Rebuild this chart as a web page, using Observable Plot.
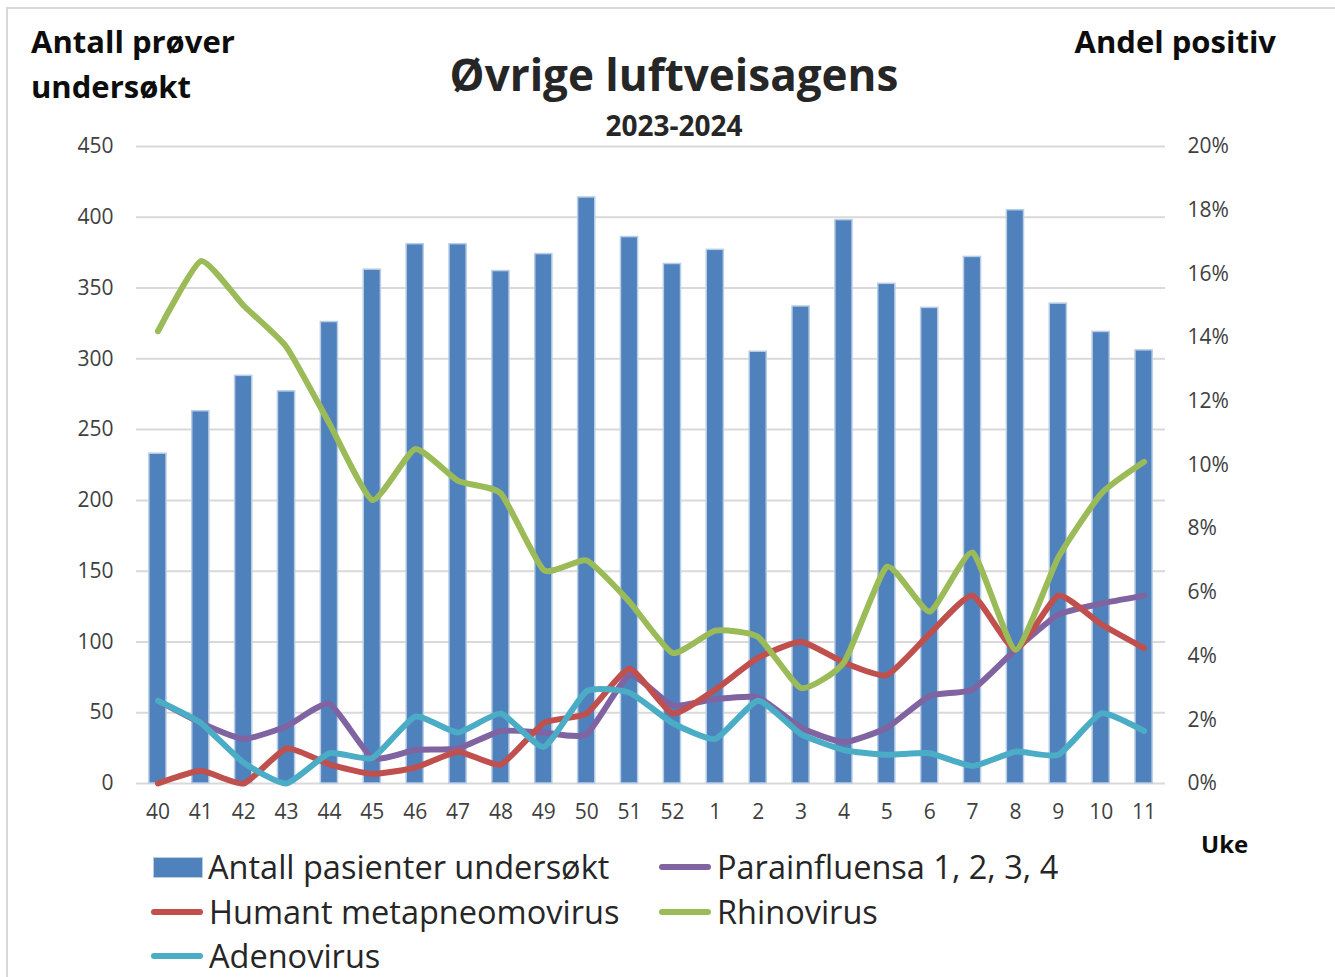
<!DOCTYPE html>
<html>
<head>
<meta charset="utf-8">
<script src="https://cdn.jsdelivr.net/npm/d3@7"></script>
<script src="https://cdn.jsdelivr.net/npm/@observablehq/plot@0.6"></script>
<style>
  html, body { margin: 0; padding: 0; background: #fff; }
  body { width: 1335px; height: 977px; overflow: hidden; font-family: "Open Sans", Lato, sans-serif; }
  #wrap { position: relative; width: 1335px; height: 977px; }
  #frame { position: absolute; left: 6px; top: 7px; width: 1340px; height: 990px; border-left: 2px solid #d9d9d9; border-top: 2px solid #d9d9d9; }
  .t { position: absolute; white-space: nowrap; color: #0d0d0d; font-weight: 700; }
  #chart { position: absolute; left: 0; top: 0; }
  .leg { position: absolute; white-space: nowrap; font-size: 32.5px; line-height: 34px; color: #262626; display: flex; align-items: center; }
  .sw-rect { width: 50px; height: 21px; background: #4F81BD; border: 1.5px solid #B9CDE5; box-sizing: border-box; margin-right: 5px; flex: none; }
  .sw-line { width: 52px; height: 6px; border-radius: 3px; margin-right: 6px; flex: none; }
</style>
</head>
<body>
<div id="wrap">
  <div id="frame"></div>
  <div id="chart"></div>
  <div class="t" style="left:31px; top:19px; font-size:31px; line-height:45px;">Antall prøver<br>undersøkt</div>
  <div class="t" style="right:59px; top:19px; font-size:31px; line-height:45px;">Andel positiv</div>
  <div class="t" style="left:674px; top:45px; transform:translateX(-50%); font-size:44px; line-height:58px; color:#262626;">Øvrige luftveisagens</div>
  <div class="t" style="left:674px; top:107px; transform:translateX(-50%); font-size:28px; line-height:36px; color:#262626;">2023-2024</div>
  <div class="t" style="left:1201px; top:828px; font-size:24px; line-height:32px;">Uke</div>
  <div id="legend"></div>
</div>
<script>
// Weeks (categories)
const weeks = ["40","41","42","43","44","45","46","47","48","49","50","51","52","1","2","3","4","5","6","7","8","9","10","11"];
// Antall pasienter undersøkt (left axis)
const antall = [233,263,288,277,326,363,381,381,362,374,414,386,367,377,305,337,398,353,336,372,405,339,319,306];
// Andel positiv (%), right axis
const parainfluensa = [2.6,1.9,1.4,1.8,2.5,0.8,1.05,1.1,1.65,1.6,1.55,3.4,2.45,2.65,2.7,1.75,1.3,1.75,2.75,2.95,4.2,5.3,5.65,5.9];
const hmpv = [0,0.4,0,1.1,0.6,0.3,0.5,1.0,0.6,1.9,2.2,3.6,2.2,2.95,3.95,4.45,3.8,3.4,4.7,5.9,4.2,5.9,5.0,4.25];
const rhinovirus = [14.2,16.4,15.0,13.7,11.3,8.9,10.5,9.5,9.1,6.7,7.0,5.7,4.1,4.8,4.6,3.0,3.8,6.8,5.4,7.25,4.2,7.1,9.1,10.1];
const adenovirus = [2.6,1.9,0.65,0,0.95,0.8,2.1,1.6,2.2,1.15,2.9,2.85,1.9,1.4,2.6,1.55,1.05,0.9,0.95,0.55,1.0,0.9,2.2,1.65];
const leftTicks = [0,50,100,150,200,250,300,350,400,450];
const rightTicks = [0,2,4,6,8,10,12,14,16,18,20];

const seriesNames = ["Parainfluensa 1, 2, 3, 4","Humant metapneomovirus","Rhinovirus","Adenovirus"];
const seriesVals = [parainfluensa, hmpv, rhinovirus, adenovirus];
const seriesColors = ["#8064A2","#C0504D","#9BBB59","#4BACC6"];

const leftMax = 450, rightMax = 20;
const k = leftMax / rightMax; // percent -> left scale units

const bars = weeks.map((w, i) => ({week: w, value: antall[i]}));
const lines = seriesNames.flatMap((name, s) => weeks.map((w, i) => ({series: name, week: w, pct: seriesVals[s][i], v: seriesVals[s][i] * k})));

const fontFam = "'Open Sans', Lato, sans-serif";
const chart = Plot.plot({
  width: 1335,
  height: 840,
  marginTop: 146,
  marginBottom: 57,
  marginLeft: 136,
  marginRight: 170,
  style: {fontFamily: fontFam, fontSize: "20px", color: "#404040", background: "transparent"},
  x: {domain: weeks, type: "band", paddingInner: 0.6, paddingOuter: 0.3, align: 0.5, round: false, label: null},
  y: {domain: [0, leftMax], label: null},
  marks: [
    Plot.gridY(leftTicks, {stroke: "#d9d9d9", strokeOpacity: 1, strokeWidth: 2}),
    Plot.barY(bars, {x: "week", y: "value", fill: "#4F81BD", stroke: "#B9CDE5", strokeWidth: 1.5}),
    ...seriesNames.map((name, s) => Plot.line(lines.filter(d => d.series === name), {
      x: "week", y: "v", stroke: seriesColors[s], strokeWidth: 6, curve: "cardinal", tension: 0.5, strokeLinecap: "round", strokeLinejoin: "round"
    })),
    Plot.axisY(leftTicks, {anchor: "left", tickSize: 0, tickPadding: 23, label: null, fontSize: 21}),
    Plot.axisY(rightTicks.map(p => p * k), {anchor: "right", tickSize: 0, tickPadding: 22, label: null, fontSize: 21, tickFormat: d => Math.round(d / k) + "%"}),
    Plot.axisX({anchor: "bottom", tickSize: 0, tickPadding: 21, label: null, fontSize: 21})
  ]
});
document.getElementById("chart").appendChild(chart);

// Legend
const legendItems = [
  {label: "Antall pasienter undersøkt", type: "rect", color: "#4F81BD", x: 153, y: 867},
  {label: seriesNames[0], type: "line", color: seriesColors[0], x: 659, y: 867},
  {label: seriesNames[1], type: "line", color: seriesColors[1], x: 151, y: 912},
  {label: seriesNames[2], type: "line", color: seriesColors[2], x: 659, y: 912},
  {label: seriesNames[3], type: "line", color: seriesColors[3], x: 151, y: 956}
];
const leg = document.getElementById("legend");
legendItems.forEach(it => {
  const d = document.createElement("div");
  d.className = "leg";
  d.style.left = it.x + "px";
  d.style.top = (it.y - 17) + "px";
  d.style.height = "34px";
  const sw = document.createElement("span");
  sw.className = it.type === "rect" ? "sw-rect" : "sw-line";
  if (it.type !== "rect") sw.style.background = it.color;
  d.appendChild(sw);
  const tx = document.createElement("span");
  tx.textContent = it.label;
  d.appendChild(tx);
  leg.appendChild(d);
});
</script>
</body>
</html>
